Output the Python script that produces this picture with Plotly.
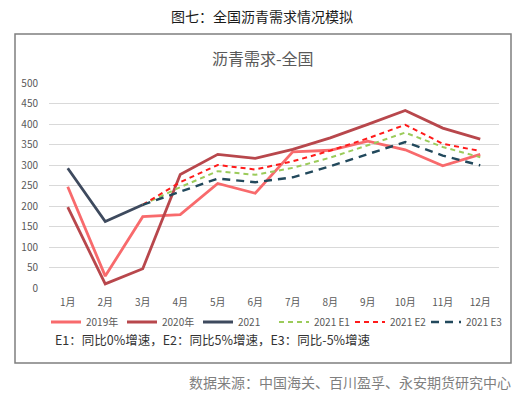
import plotly.graph_objects as go

months = ["1月", "2月", "3月", "4月", "5月", "6月", "7月", "8月", "9月", "10月", "11月", "12月"]
y2019 = [247, 29, 174, 179, 255, 231, 332, 336, 358, 337, 298, 326]
y2020 = [197, 10, 47, 277, 326, 316, 338, 366, 399, 433, 390, 363]
y2021 = [292, 162, 203, None, None, None, None, None, None, None, None, None]
e1 = [None, None, 203, 246, 285, 276, 293, 318, 348, 379, 344, 319]
e2 = [None, None, 203, 258, 300, 289, 309, 335, 365, 398, 352, 334]
e3 = [None, None, 203, 235, 267, 258, 270, 297, 326, 356, 323, 299]

series = [
    ("2019年", y2019, "#F86A6C", 2.8, "solid"),
    ("2020年", y2020, "#B8474C", 2.8, "solid"),
    ("2021", y2021, "#3E4A5E", 2.8, "solid"),
    ("2021 E1", e1, "#9BCB5A", 2.0, "5px,4px"),
    ("2021 E2", e2, "#FF1A1A", 2.0, "5px,4px"),
    ("2021 E3", e3, "#22495C", 2.4, "8px,6px"),
]

FONT = "Noto Sans CJK SC, Microsoft YaHei, sans-serif"
W, H = 527, 398
L, R, T, B = 49, 28, 83, 110
pw, ph = W - L - R, H - T - B

def px(x):
    return (x - L) / pw

def py(y):
    return (H - B - y) / ph

fig = go.Figure()
for name, vals, color, width, dash in series:
    fig.add_trace(go.Scatter(
        x=months, y=vals, name=name, mode="lines",
        line=dict(color=color, width=width, dash=dash),
        connectgaps=False,
    ))

fig.update_layout(
    width=W, height=H,
    margin=dict(l=L, r=R, t=T, b=B, autoexpand=False),
    paper_bgcolor="white", plot_bgcolor="white",
    font=dict(family=FONT, color="#595959", size=10),
    showlegend=True,
    legend=dict(
        orientation="h", x=px(46), xanchor="left", y=py(322), yanchor="middle",
        font=dict(size=10, color="#595959"), entrywidth=31, entrywidthmode="pixels",
        itemwidth=30, tracegroupgap=0, bgcolor="rgba(0,0,0,0)",
    ),
    xaxis=dict(
        type="category", range=[-0.5, 11.5], showgrid=False, showline=False,
        zeroline=False, ticks="outside", ticklen=5, tickcolor="rgba(0,0,0,0)",
        tickfont=dict(size=10, color="#595959"), fixedrange=True,
    ),
    yaxis=dict(
        range=[0, 500], dtick=50, showgrid=True, gridcolor="#D9D9D9", gridwidth=1,
        zeroline=False, showline=False, ticks="outside", ticklen=8,
        tickcolor="rgba(0,0,0,0)", tickfont=dict(size=10, color="#595959"),
        fixedrange=True,
    ),
    shapes=[
        dict(type="rect", xref="paper", yref="paper",
             x0=px(15), x1=px(511), y0=py(363), y1=py(34),
             line=dict(color="#7F7F7F", width=1.5), fillcolor="rgba(0,0,0,0)", layer="below"),
    ],
    annotations=[
        dict(text="图七：全国沥青需求情况模拟", xref="paper", yref="paper",
             x=px(262), y=py(16), xanchor="center", yanchor="middle", showarrow=False,
             font=dict(size=14, color="#1A1A1A", family=FONT)),
        dict(text="沥青需求-全国", xref="paper", yref="paper",
             x=px(263), y=py(58), xanchor="center", yanchor="middle", showarrow=False,
             font=dict(size=16, color="#595959", family=FONT)),
        dict(text="E1：同比0%增速，E2：同比5%增速，E3：同比-5%增速", xref="paper", yref="paper",
             x=px(53), y=py(339), xanchor="left", yanchor="middle", showarrow=False,
             font=dict(size=12.5, color="#333333", family=FONT)),
        dict(text="数据来源：中国海关、百川盈孚、永安期货研究中心", xref="paper", yref="paper",
             x=px(513), y=py(382), xanchor="right", yanchor="middle", showarrow=False,
             font=dict(size=14, color="#7F7F7F", family=FONT)),
    ],
)

fig.write_html("out.html", config={"displayModeBar": False},
               post_script="document.body.style.margin='0px';document.body.style.padding='0px';")
